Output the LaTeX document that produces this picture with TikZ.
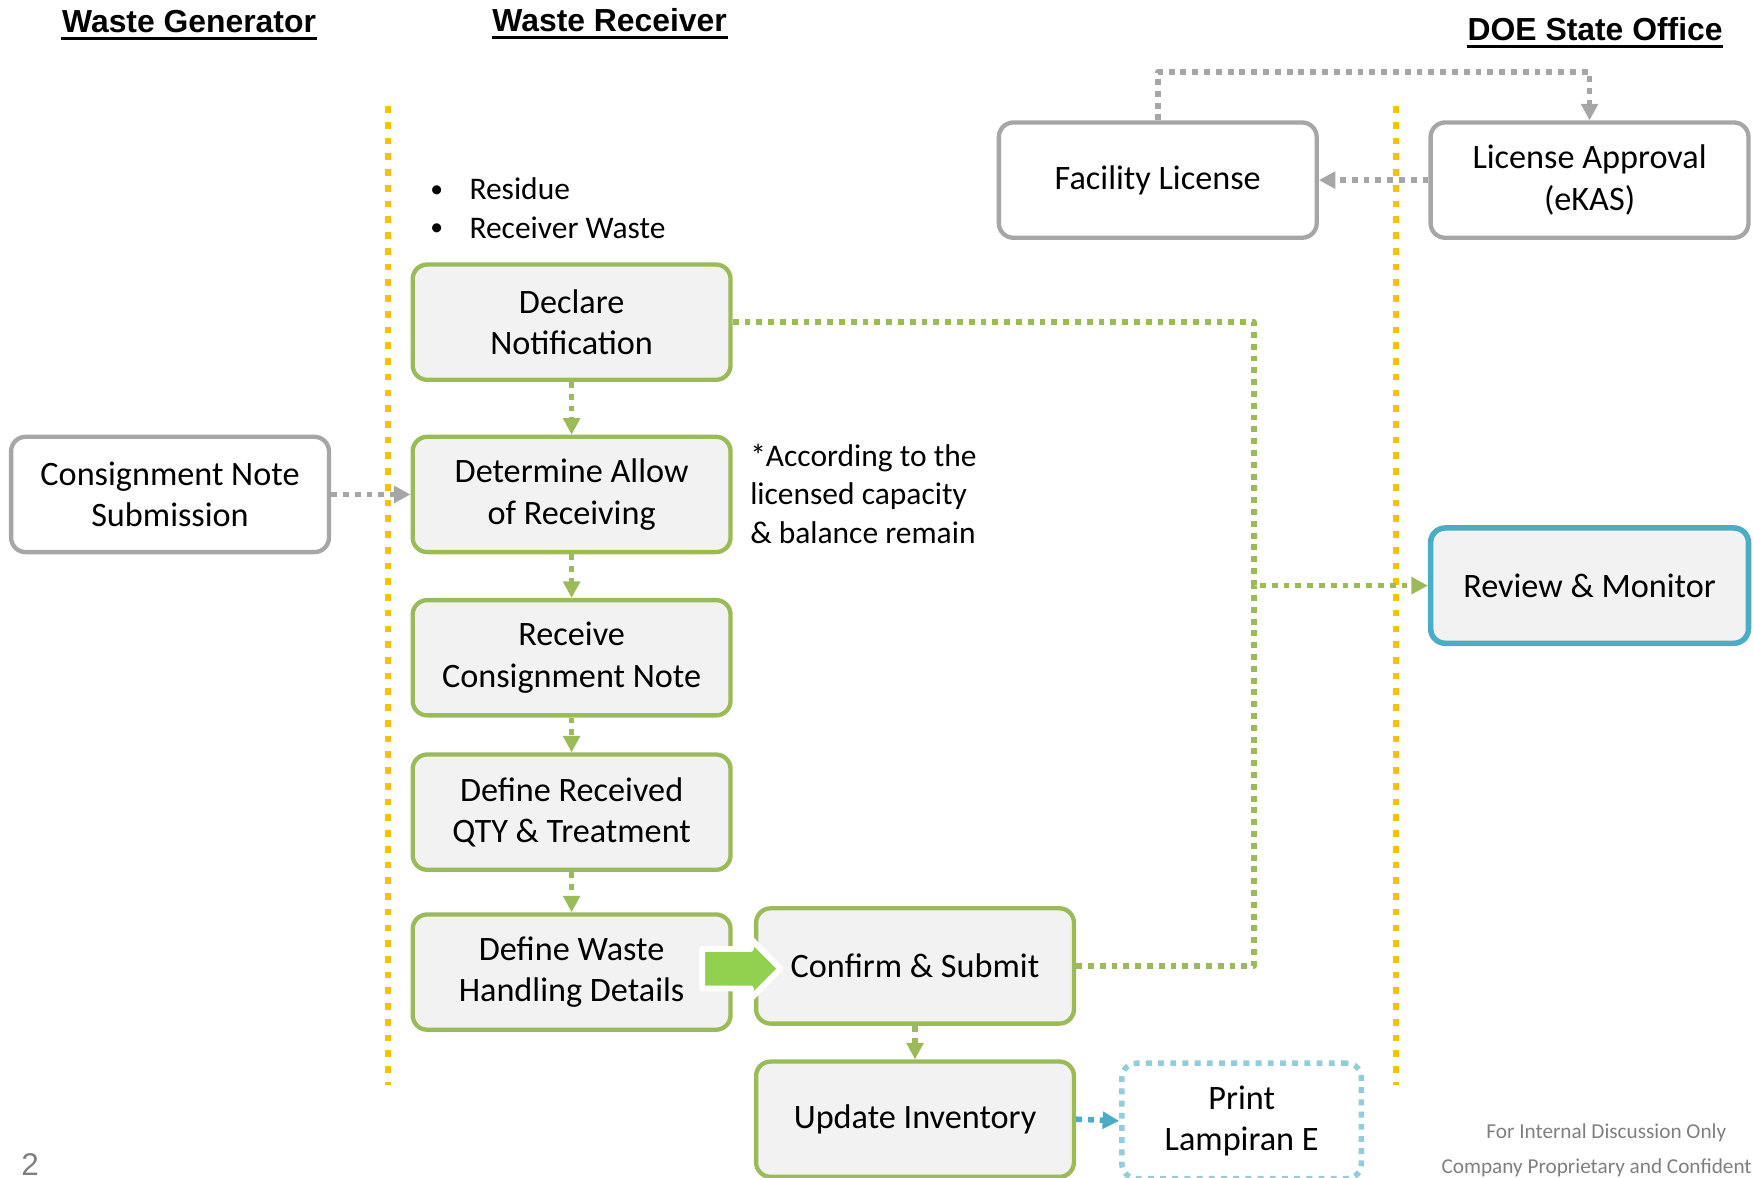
\documentclass[tikz,border=0pt]{standalone}
\usepackage{fontspec}
\setmainfont{Carlito}
\newfontfamily\arialfont{Liberation Sans}
\usetikzlibrary{arrows.meta,shapes.arrows}

\definecolor{boxgreen}{HTML}{9BBB59}
\definecolor{boxgray}{HTML}{A6A6A6}
\definecolor{boxblue}{HTML}{4BACC6}
\definecolor{printblue}{HTML}{92CDDC}
\definecolor{lanegold}{HTML}{FFC000}
\definecolor{pushgreen}{HTML}{92D050}
\definecolor{panel}{HTML}{F2F2F2}
\definecolor{footgray}{HTML}{7F7F7F}

\newcommand\boxfont{\fontsize{8.7}{10.5}\selectfont}
\newcommand\notefont{\fontsize{8}{9.8}\selectfont}
\newcommand\dotitem{\makebox[0.35cm][l]{\raisebox{0.6pt}{\fontsize{6.5}{6.5}\selectfont •}}}

\begin{document}
\begin{tikzpicture}[x=0.01cm, y=-0.01cm, line join=round, >={Triangle[length=4.2pt,width=4.2pt]},
  box/.style={rounded corners=0.13cm, line width=1.1pt, minimum width=2.84cm, minimum height=1.03cm, inner sep=0pt, align=center, font=\boxfont},
  greenbox/.style={box, draw=boxgreen, fill=panel},
  graybox/.style={box, draw=boxgray, fill=white},
  bluebox/.style={box, draw=boxblue, fill=panel, line width=1.4pt},
  printbox/.style={box, draw=printblue, fill=white, line width=1.4pt, dash pattern=on 1.5pt off 1.6pt, minimum width=2.14cm},
  greenlink/.style={draw=boxgreen, line width=1.4pt, dash pattern=on 1.5pt off 1.5pt},
  graylink/.style={draw=boxgray, line width=1.4pt, dash pattern=on 1.5pt off 1.5pt},
  bluelink/.style={draw=boxblue, line width=1.4pt, dash pattern=on 1.5pt off 1.5pt},
  lane/.style={draw=lanegold, line width=1.6pt, dash pattern=on 1.7pt off 2.3pt},
  head/.style={inner sep=0pt, font=\arialfont\bfseries\fontsize{8.1}{9.5}\selectfont},
  note/.style={inner sep=0pt, align=left, font=\notefont},
  foot/.style={inner sep=0pt, text=footgray, font=\fontsize{5.4}{6.5}\selectfont},
  push/.style={single arrow, fill=pushgreen, draw=white, line width=1.5pt, inner xsep=0pt, inner ysep=0.15cm, single arrow head extend=0.09cm, minimum height=0.7cm}]
\useasboundingbox (0,0) rectangle (1568,1053);

% swim lanes
\draw[lane] (347,95) -- (347,970);
\draw[lane] (1248,95) -- (1248,970);

% headings
\node[head] (hgen) at (169,19) {Waste Generator};
\node[head] (hrec) at (545,18) {Waste Receiver};
\node[head] (hdoe) at (1426,26) {DOE State Office};
\foreach \h in {hgen,hrec,hdoe}
  \draw[line width=0.7pt] ([yshift=-1.6pt]\h.base west) -- ([yshift=-1.6pt]\h.base east);

% process boxes
\node[graybox] (subm) at (152,442) {Consignment Note\\Submission};
\node[greenbox] (declare) at (511,288) {Declare\\Notification};
\node[greenbox] (allow) at (511,442) {Determine Allow\\of Receiving};
\node[greenbox] (receive) at (511,588) {Receive\\Consignment Note};
\node[greenbox] (qty) at (511,726) {Define Received\\QTY \& Treatment};
\node[greenbox] (handling) at (511,869) {Define Waste\\Handling Details};
\node[greenbox] (confirm) at (818,863.5) {Confirm \& Submit};
\node[greenbox] (inventory) at (818,1000.5) {Update Inventory};
\node[printbox] (lampiran) at (1110,1002) {Print\\Lampiran E};
\node[graybox] (facility) at (1035,161) {Facility License};
\node[graybox] (approval) at (1421,161) {License Approval\\(eKAS)};
\node[bluebox] (review) at (1421,523.5) {Review \& Monitor};
\node[push] (push) at (654,866) {};

% notes
\node[note, anchor=west] (kinds) at (384,186) {\dotitem Residue\\\dotitem Receiver Waste};
\node[note, anchor=west] (capnote) at (670,441.5) {*According to the\\licensed capacity\\\& balance remain};

% links
\draw[graylink,->] (subm.east) -- (allow.west);
\foreach \a/\b in {declare/allow, allow/receive, receive/qty, qty/handling, confirm/inventory}
  \draw[greenlink,->] (\a.south) -- (\b.north);
\coordinate (tap) at (1121,0);
\draw[greenlink,->] (declare.east) -| (tap |- review.west) -- (review.west);
\draw[greenlink] (confirm.east) -| (tap |- review.west);
\draw[graylink,->] (facility.north) -- ++(0,-43) -| (approval.north);
\draw[graylink,->] (approval.west) -- (facility.east);
\draw[bluelink,->] (inventory.east) -- (lampiran.west);

% footer
\node[foot] (foot1) at (1436,1013) {For Internal Discussion Only};
\node[foot, anchor=west] (foot2) at (1288,1044) {Company Proprietary and Confident};
\node[inner sep=0pt, text=footgray, font=\arialfont\fontsize{8}{9}\selectfont] (pagenum) at (27,1041) {2};
\end{tikzpicture}
\end{document}
